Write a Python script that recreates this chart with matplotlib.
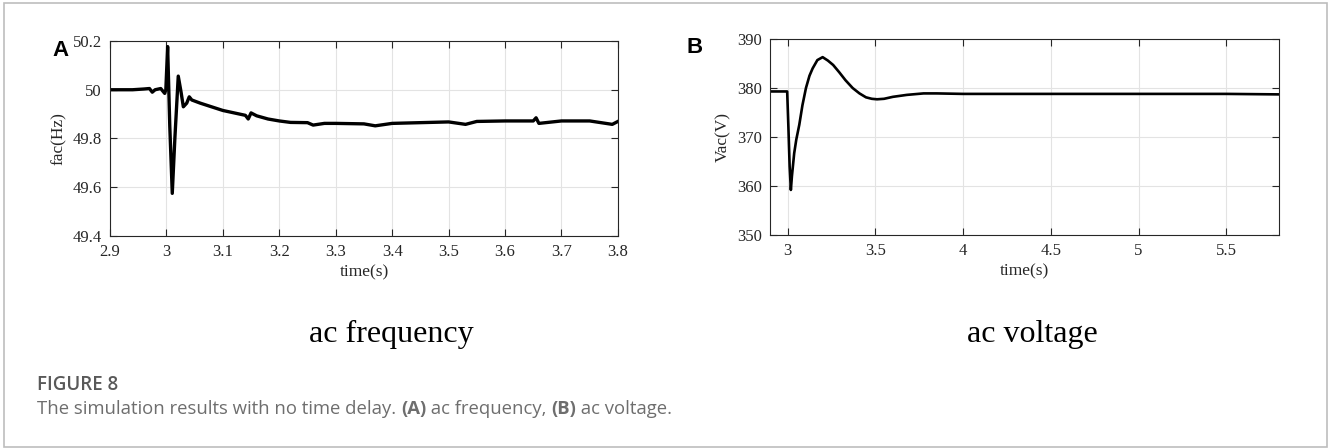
import matplotlib
matplotlib.use('Agg')
import matplotlib.pyplot as plt
from matplotlib.patches import Rectangle

# ac frequency (s, Hz)
t_freq = [2.90, 2.92, 2.94, 2.96, 2.970, 2.975, 2.980, 2.990, 2.997, 2.999,
          3.0022, 3.006, 3.0104, 3.015, 3.021, 3.026, 3.030, 3.036, 3.0405, 3.045,
          3.06, 3.08, 3.10, 3.12, 3.14, 3.145, 3.150, 3.16, 3.18, 3.20,
          3.22, 3.25, 3.26, 3.28, 3.30, 3.35, 3.37, 3.40, 3.45, 3.50,
          3.53, 3.55, 3.60, 3.65, 3.655, 3.66, 3.70, 3.75, 3.79, 3.80]
f_freq = [50.00, 50.00, 50.00, 50.003, 50.005, 49.99, 50.00, 50.005, 49.985, 50.00,
          50.177, 49.85, 49.575, 49.80, 50.056, 49.99, 49.930, 49.945, 49.971, 49.958,
          49.945, 49.93, 49.915, 49.905, 49.895, 49.88, 49.905, 49.893, 49.88, 49.872,
          49.866, 49.865, 49.855, 49.862, 49.862, 49.86, 49.852, 49.862, 49.865, 49.868,
          49.858, 49.87, 49.872, 49.872, 49.885, 49.862, 49.872, 49.872, 49.858, 49.87]

# ac voltage (s, V)
t_volt = [2.90, 2.95, 2.998, 3.005, 3.012, 3.019, 3.025, 3.038, 3.05, 3.067,
          3.085, 3.105, 3.125, 3.143, 3.17, 3.20, 3.23, 3.26, 3.295, 3.33,
          3.371, 3.41, 3.447, 3.48, 3.51, 3.55, 3.60, 3.68, 3.775, 3.85,
          4.0, 4.5, 5.0, 5.5, 5.8]
v_volt = [379.3, 379.3, 379.3, 372.0, 364.0, 359.2, 362.0, 366.7, 369.5, 372.5,
          376.5, 380.0, 382.5, 384.0, 385.7, 386.3, 385.6, 384.7, 383.2, 381.6,
          380.0, 378.9, 378.1, 377.8, 377.7, 377.8, 378.2, 378.6, 378.9, 378.9,
          378.8, 378.8, 378.8, 378.8, 378.7]

freq_xticks = [2.9, 3.0, 3.1, 3.2, 3.3, 3.4, 3.5, 3.6, 3.7, 3.8]
freq_xlabels = ['2.9', '3', '3.1', '3.2', '3.3', '3.4', '3.5', '3.6', '3.7', '3.8']
freq_yticks = [49.4, 49.6, 49.8, 50.0, 50.2]
freq_ylabels = ['49.4', '49.6', '49.8', '50', '50.2']
volt_xticks = [3.0, 3.5, 4.0, 4.5, 5.0, 5.5]
volt_xlabels = ['3', '3.5', '4', '4.5', '5', '5.5']
volt_yticks = [350, 360, 370, 380, 390]
volt_ylabels = ['350', '360', '370', '380', '390']

serif = 'Liberation Serif'

fig = plt.figure(figsize=(13.28, 4.48), dpi=100)

# light frame round the whole figure
fig.patches.append(Rectangle((0.003, 0.002), 0.996, 0.991, transform=fig.transFigure,
                             fill=False, edgecolor='#bdbdbd', linewidth=1.2))


def style_axes(ax, xt, xl, yt, yl, xlim, ylim, ylabel):
    ax.set_xlim(*xlim)
    ax.set_ylim(*ylim)
    ax.set_xticks(xt)
    ax.set_xticklabels(xl, fontfamily=serif, fontsize=12, color='#262626')
    ax.set_yticks(yt)
    ax.set_yticklabels(yl, fontfamily=serif, fontsize=12, color='#262626')
    ax.tick_params(direction='in', top=True, right=True, length=5, width=0.8,
                   pad=6, color='#262626')
    ax.grid(True, color='#e3e3e3', linewidth=0.8)
    ax.set_axisbelow(True)
    for s in ax.spines.values():
        s.set_color('#262626')
        s.set_linewidth(0.8)
    ax.set_xlabel('time(s)', fontfamily=serif, fontsize=12.5, color='#262626', labelpad=3)
    ax.set_ylabel(ylabel, fontfamily=serif, fontsize=12.5, color='#262626', labelpad=4)


ax1 = fig.add_axes([0.0828, 0.4732, 0.3825, 0.4353])
ax1.plot(t_freq, f_freq, color='black', linewidth=2.4)
style_axes(ax1, freq_xticks, freq_xlabels, freq_yticks, freq_ylabels,
           (2.9, 3.8), (49.4, 50.2), 'fac(Hz)')

ax2 = fig.add_axes([0.5798, 0.4754, 0.3833, 0.4375])
ax2.plot(t_volt, v_volt, color='black', linewidth=1.9)
style_axes(ax2, volt_xticks, volt_xlabels, volt_yticks, volt_ylabels,
           (2.9, 5.8), (350, 390), 'Vac(V)')

# panel letters
fig.text(52 / 1328, 1 - 56 / 448, 'A', fontfamily='Liberation Sans', fontweight='bold',
         fontsize=16, va='baseline', ha='left')
fig.text(687 / 1328, 1 - 53 / 448, 'B', fontfamily='Liberation Sans', fontweight='bold',
         fontsize=16, va='baseline', ha='left')

# sub captions
fig.text(391 / 1328, 1 - 342 / 448, 'ac frequency', fontfamily=serif, fontsize=23,
         ha='center', va='baseline')
fig.text(1032 / 1328, 1 - 342 / 448, 'ac voltage', fontfamily=serif, fontsize=23,
         ha='center', va='baseline')

# figure caption
fig.text(37 / 1328, 1 - 390 / 448, 'FIGURE 8', fontfamily='Open Sans', fontsize=13.5,
         fontweight='semibold', color='#595959', va='baseline', ha='left')
cap_parts = [('The simulation results with no time delay. ', 'normal'),
             ('(A)', 'bold'), (' ac frequency, ', 'normal'),
             ('(B)', 'bold'), (' ac voltage.', 'normal')]
fig.canvas.draw()
x = 37 / 1328
rend = fig.canvas.get_renderer()
for txt, w in cap_parts:
    t = fig.text(x, 1 - 414 / 448, txt, fontfamily='Open Sans', fontsize=13.3,
                 fontweight=w, color='#6e6e6e', va='baseline', ha='left')
    bb = t.get_window_extent(renderer=rend)
    x += bb.width / fig.bbox.width

fig.savefig('out.png', dpi=100)
